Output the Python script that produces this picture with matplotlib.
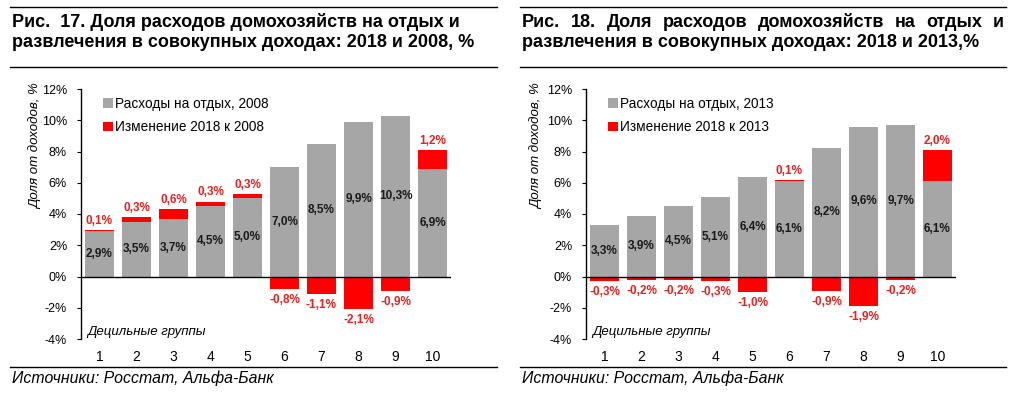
import numpy as np
import matplotlib
matplotlib.use("Agg")
import matplotlib.pyplot as plt
from matplotlib.lines import Line2D

plt.rcParams['font.family'] = ['Liberation Sans', 'DejaVu Sans']

W, H = 1016, 396

deciles = ["1", "2", "3", "4", "5", "6", "7", "8", "9", "10"]

# Fig. 17: 2018 vs 2008
base_2008 = [2.9, 3.5, 3.7, 4.5, 5.0, 7.0, 8.5, 9.9, 10.3, 6.9]
change_2008 = [0.1, 0.3, 0.6, 0.3, 0.3, -0.8, -1.1, -2.1, -0.9, 1.2]

# Fig. 18: 2018 vs 2013
base_2013 = [3.3, 3.9, 4.5, 5.1, 6.4, 6.1, 8.2, 9.6, 9.7, 6.1]
change_2013 = [-0.3, -0.2, -0.2, -0.3, -1.0, 0.1, -0.9, -1.9, -0.2, 2.0]

titles = [
    ("Рис.  17. Доля расходов домохозяйств на отдых и",
     "развлечения в совокупных доходах: 2018 и 2008, %"),
    ("Рис. 18. Доля расходов домохозяйств на отдых и",
     "развлечения в совокупных доходах: 2018 и 2013,%"),
]
legend_labels = [
    ("Расходы на отдых, 2008", "Изменение 2018 к 2008"),
    ("Расходы на отдых, 2013", "Изменение 2018 к 2013"),
]
yticks = [-4, -2, 0, 2, 4, 6, 8, 10, 12]
ylabel = "Доля от доходов, %"
xlabel = "Децильные группы"
source = "Источники: Росстат, Альфа-Банк"

GREY = "#A6A6A6"
RED = "#FF0000"
RED_TXT = "#E8201E"
TITLE_FS = 13


def fx(x):
    return x / W


def fy(y):
    return 1 - y / H


def fmt(v):
    return f"{v:.1f}%".replace(".", ",")


def hline(fig, x0, x1, y):
    fig.add_artist(Line2D([fx(x0), fx(x1)], [fy(y), fy(y)],
                          transform=fig.transFigure, color="black", lw=1.0))


def justified_line(fig, text, x0, x1, y):
    """Spread the words of one title line from x0 to x1 (pixels)."""
    words = text.split()
    renderer = fig.canvas.get_renderer()
    items = []
    for w in words:
        t = fig.text(0, fy(y), w, fontsize=TITLE_FS, fontweight="bold",
                     va="baseline", ha="left")
        items.append((t, t.get_window_extent(renderer).width))
    gap = (x1 - x0 - sum(wd for _, wd in items)) / (len(items) - 1)
    pos = x0
    for t, wd in items:
        t.set_x(fx(pos))
        pos += wd + gap


def draw_panel(fig, left_px, base, change, title, labels, panel_x0, panel_x1,
               ylab_x, justify=False):
    top_px, bot_px = 89, 339
    ax = fig.add_axes([fx(left_px), fy(bot_px), 370 / W, (bot_px - top_px) / H])
    x = np.arange(len(deciles))
    base = np.array(base)
    change = np.array(change)

    pos = np.where(change > 0, change, 0)
    neg = np.where(change < 0, change, 0)
    ax.bar(x, base, width=0.76, color=GREY, label=labels[0], zorder=2)
    ax.bar(x, pos, bottom=base, width=0.76, color=RED, label=labels[1], zorder=2)
    ax.bar(x, neg, width=0.76, color=RED, zorder=2)

    for i in range(len(x)):
        ax.text(x[i], base[i] / 2, fmt(base[i]), ha="center", va="center",
                fontsize=8.5, fontweight="bold", color="#1A1A1A", zorder=3)
        c = change[i]
        if c > 0:
            ax.annotate(fmt(c), (x[i], base[i] + c), xytext=(0, 6.5),
                        textcoords="offset points", ha="center", va="center",
                        fontsize=8.5, fontweight="bold", color=RED_TXT)
        else:
            ax.annotate(fmt(c), (x[i], c), xytext=(0, -8),
                        textcoords="offset points", ha="center", va="center",
                        fontsize=8.5, fontweight="bold", color=RED_TXT)

    ax.axhline(0, color="black", lw=1.0, zorder=4)
    ax.set_xlim(-0.5, 9.5)
    ax.set_ylim(-4, 12)
    ax.set_yticks(yticks)
    ax.set_yticklabels([f"{t}%" for t in yticks], fontsize=9)
    ax.set_xticks(x)
    ax.set_xticklabels(deciles, fontsize=10)
    ax.tick_params(axis="x", length=0, pad=8)
    ax.tick_params(axis="y", length=3, width=0.8, pad=7, direction="out")
    for s in ["top", "right", "bottom"]:
        ax.spines[s].set_visible(False)
    ax.spines["left"].set_linewidth(1.0)
    ax.patch.set_alpha(0)

    ax.text(-0.34, -3.55, xlabel, fontsize=9.5, style="italic", ha="left", va="center")

    ax.legend(loc="upper left", bbox_to_anchor=(0.045, 0.99), frameon=False,
              fontsize=9.8, handlelength=0.7, handleheight=0.7, handletextpad=0.2,
              labelspacing=0.7, borderaxespad=0)

    fig.text(fx(ylab_x), fy(146), ylabel, rotation=90, style="italic",
             fontsize=9.5, ha="center", va="center")

    if justify:
        justified_line(fig, title[0], panel_x0 + 2, panel_x1 - 2, 27)
    else:
        fig.text(fx(panel_x0 + 2), fy(27), title[0], fontsize=TITLE_FS,
                 fontweight="bold", va="baseline", ha="left")
    fig.text(fx(panel_x0 + 2), fy(47), title[1], fontsize=TITLE_FS, fontweight="bold",
             va="baseline", ha="left")
    hline(fig, panel_x0, panel_x1, 7)
    hline(fig, panel_x0, panel_x1, 67)
    hline(fig, panel_x0, panel_x1, 367)
    fig.text(fx(panel_x0 + 2), fy(378), source, fontsize=11.4, style="italic",
             ha="left", va="center")
    return ax


fig = plt.figure(figsize=(W / 100, H / 100), dpi=100)
draw_panel(fig, 81, base_2008, change_2008, titles[0], legend_labels[0], 10, 497, 36)
draw_panel(fig, 586, base_2013, change_2013, titles[1], legend_labels[1], 520, 1006, 537,
           justify=True)

fig.savefig("out.png", dpi=100)
